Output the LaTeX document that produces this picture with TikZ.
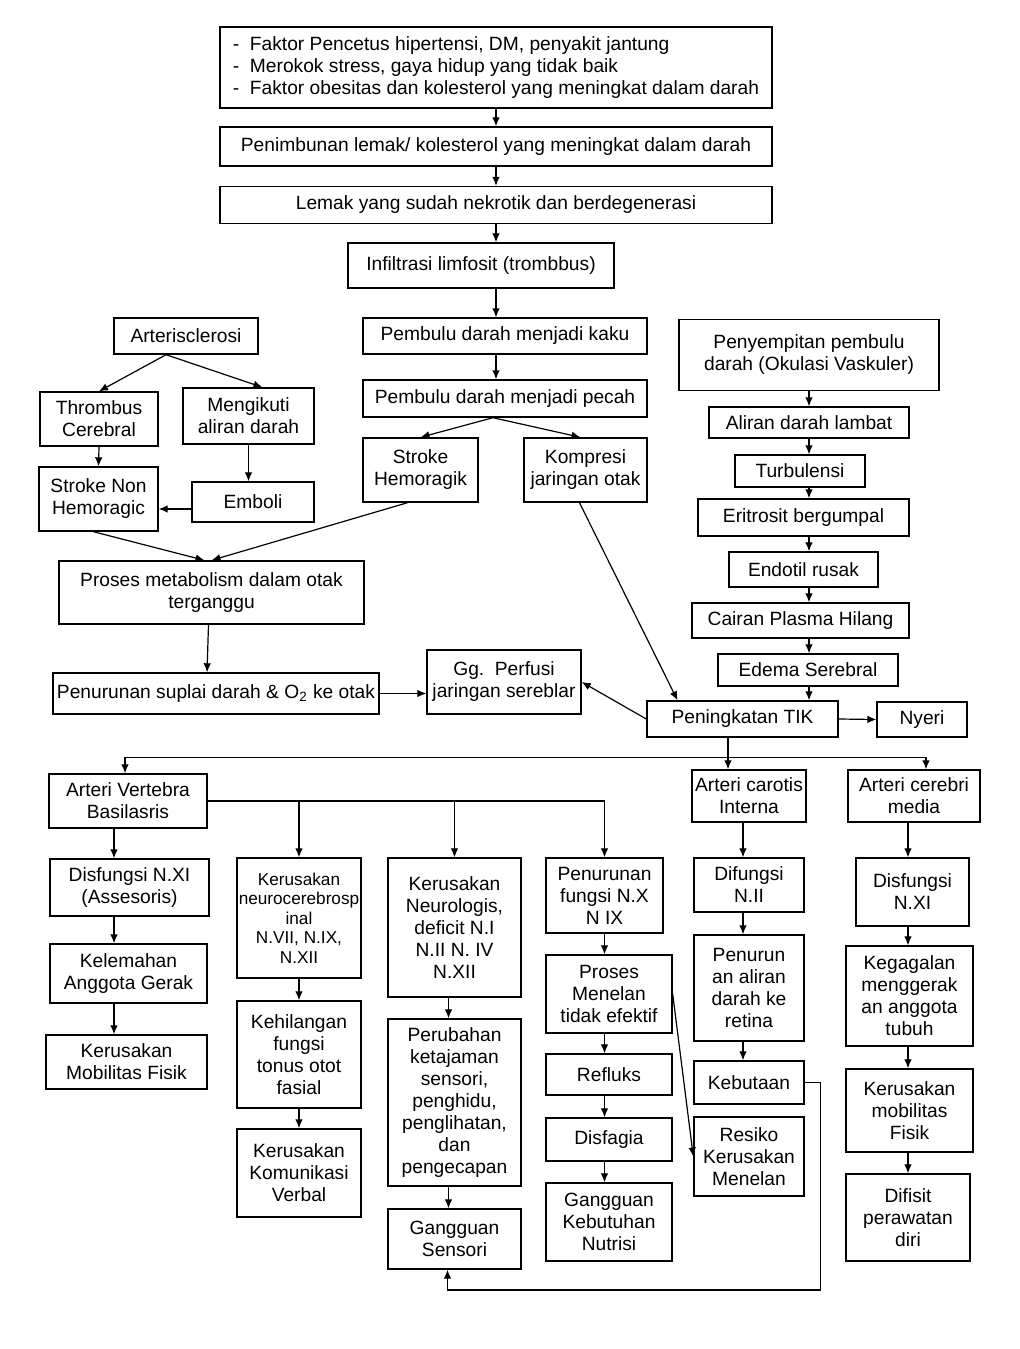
\documentclass[tikz,border=0pt]{standalone}
\usepackage{fontspec}
\setmainfont{Liberation Sans}
\usetikzlibrary{calc, arrows.meta}
\tikzset{
  box/.style={draw, line width=0.7pt, align=center, inner sep=0pt, font=\fontsize{9.6}{11}\selectfont},
  sz/.style 2 args={minimum width=#1*0.5pt, minimum height=#2*0.5pt},
}
\begin{document}
\begin{tikzpicture}[>={Latex[length=4.5pt,width=3.8pt]}, x=0.5pt, y=-0.5pt, line width=0.6pt]
        \useasboundingbox (0,0) rectangle (1020,1349);
        % top column
        \node[box, sz={552}{81}, align=left] (f1) at (496,67.5) {\makebox[8.5pt][l]{-}Faktor Pencetus hipertensi, DM, penyakit jantung\\\makebox[8.5pt][l]{-}Merokok stress, gaya hidup yang tidak baik\\\makebox[8.5pt][l]{-}Faktor obesitas dan kolesterol yang meningkat dalam darah};
        \node[box, sz={552}{39}] (f2) at (496,146.5) {Penimbunan lemak/ kolesterol yang meningkat dalam darah};
        \node[box, sz={552}{37}] (f3) at (496,205) {Lemak yang sudah nekrotik dan berdegenerasi};
        \node[box, sz={266}{45}] (inf) at (481,265.5) {Infiltrasi limfosit (trombbus)};
        \node[box, sz={284}{36}] (kaku) at (505,336) {Pembulu darah menjadi kaku};
        \node[box, sz={284}{37}] (pecah) at (505,398.5) {Pembulu darah menjadi pecah};
        \node[box, sz={115}{64}] (sh) at (420.5,470) {Stroke\\Hemoragik};
        \node[box, sz={123}{64}] (komp) at (585.5,470) {Kompresi\\jaringan otak};
        \foreach \a/\b in {f1/f2, f2/f3, f3/inf, inf/kaku, kaku/pecah}
            \draw[->] (\a.south -| f1) -- (\b.north -| f1);
        \draw[->] ($(pecah.south)+(-12,0)$) -- (sh.north);
        \draw[->] ($(pecah.south)+(-12,0)$) -- ($(komp.north)+(-5,0)$);

        % left branch
        \node[box, sz={144}{36}] (art) at (186,336) {Arterisclerosi};
        \node[box, sz={118}{54}] (thr) at (99,419) {Thrombus\\Cerebral};
        \node[box, sz={131}{56}] (meng) at (248.5,416) {Mengikuti\\aliran darah};
        \node[box, sz={119}{64}] (snh) at (98.5,499) {Stroke Non\\Hemoragic};
        \node[box, sz={122}{40}] (emb) at (253,502) {Emboli};
        \node[box, sz={305}{63}] (pm) at (211.5,592.5) {Proses metabolism dalam otak\\terganggu};
        \node[box, sz={326}{41}] (sup) at (216,693.5) {Penurunan suplai darah \& O\textsubscript{2} ke otak};
        \node[box, sz={154}{64}] (perf) at (504,682) {Gg.\ \ Perfusi\\jaringan sereblar};
        \draw[->] ($(art.south)+(-20,0)$) -- (thr.north);
        \draw[->] ($(art.south)+(-20,0)$) -- ($(meng.north)+(14,0)$);
        \draw[->] (thr.south) -- (snh.north);
        \draw[->] (meng.south) -- (meng.south |- emb.north);
        \draw[->] ([yshift=-3.5pt]emb.west) -- ([yshift=-3.5pt]emb.west -| snh.east);
        \draw[->] ($(snh.south)+(-5,0)$) -- ($(pm.north)+(-7,0)$);
        \draw[->] ($(sh.south)+(-13,0)$) -- (pm.north);
        \draw[->] ($(pm.south)+(-3,0)$) -- ($(sup.north)+(-9,0)$);
        \draw[->] (sup.east) -- (sup.east -| perf.west);

        % right column
        \node[box, sz={260}{71}] (semp) at (809,355) {Penyempitan pembulu\\darah (Okulasi Vaskuler)};
        \node[box, sz={200}{31}] (alir) at (809,422.5) {Aliran darah lambat};
        \node[box, sz={130}{32}] (turb) at (800,471) {Turbulensi};
        \node[box, sz={211}{37}] (eri) at (803.5,517.5) {Eritrosit bergumpal};
        \node[box, sz={149}{35}] (endo) at (803.5,569.5) {Endotil rusak};
        \node[box, sz={217}{35}] (cair) at (800.5,620.5) {Cairan Plasma Hilang};
        \node[box, sz={180}{32}] (edema) at (808,670) {Edema Serebral};
        \node[box, sz={191}{36}] (tik) at (742.5,719) {Peningkatan TIK};
        \node[box, sz={90}{35}] (nyeri) at (922,719.5) {Nyeri};
        \foreach \a/\b in {semp/alir, alir/turb, turb/eri, eri/endo, endo/cair, cair/edema, edema/tik}
            \draw[->] (\a.south -| semp) -- (\b.north -| semp);
        \draw[->] ($(komp.south)+(-6,0)$) -- ($(tik.north)+(-65,0)$);
        \draw[->] (tik.west) -- (perf.east);
        \draw[->] (tik.east) -- (nyeri.west);

        % lower part
        \node[box, sz={158}{54}] (avb) at (128,801) {Arteri Vertebra\\Basilasris};
        \node[box, sz={114}{52}] (aci) at (749,796) {Arteri carotis\\Interna};
        \node[box, sz={132}{52}] (acm) at (914,796) {Arteri cerebri\\media};
        \coordinate (br) at ($(tik.south)+(-14.5,20)$);
        \draw (tik.south -| br) -- (br);
        \draw[->] (br) -- (br |- aci.north);
        \draw[->] (br) -| ([xshift=-1.5pt]avb.north);
        \draw[->] (br) -| ($(acm.north)+(12,0)$);

        \node[box, sz={159}{57}] (dnxi) at (129.5,887.5) {Disfungsi N.XI\\(Assesoris)};
        \node[box, sz={157}{59}] (kel) at (128.5,973.5) {Kelemahan\\Anggota Gerak};
        \node[box, sz={161}{54}] (kmf) at (126.5,1062) {Kerusakan\\Mobilitas Fisik};
        \foreach \a/\b in {avb/dnxi, dnxi/kel, kel/kmf}
            \draw[->] ([xshift=-7pt]\a.south -| avb) -- ([xshift=-7pt]\b.north -| avb);

        \node[box, sz={124}{120}, font=\fontsize{8.6}{9.8}\selectfont] (knc) at (299,918) {Kerusakan\\neurocerebrosp\\inal\\N.VII, N.IX,\\N.XII};
        \node[box, sz={124}{107}] (kfs) at (299,1054.5) {Kehilangan\\fungsi\\tonus otot\\fasial};
        \node[box, sz={124}{88}] (kkv) at (299,1173) {Kerusakan\\Komunikasi\\Verbal};
        \foreach \a/\b in {knc/kfs, kfs/kkv}
            \draw[->] (\a.south) -- (\b.north);

        \node[box, sz={133}{139}] (kn) at (454.5,927.5) {Kerusakan\\Neurologis,\\deficit N.I\\N.II N. IV\\N.XII};
        \node[box, sz={133}{167}] (pk) at (454.5,1102.5) {Perubahan\\ketajaman\\sensori,\\penghidu,\\penglihatan,\\dan\\pengecapan};
        \node[box, sz={133}{60}] (gs) at (454.5,1239) {Gangguan\\Sensori};
        \foreach \a/\b in {kn/pk, pk/gs}
            \draw[->] ([xshift=-3pt]\a.south) -- ([xshift=-3pt]\b.north);

        \node[box, sz={117}{75}] (pf) at (604.5,895.5) {Penurunan\\fungsi N.X\\N IX};
        \node[box, sz={126}{78}] (pmt) at (609,994) {Proses\\Menelan\\tidak efektif};
        \node[box, sz={126}{41}] (ref) at (609,1074.5) {Refluks};
        \node[box, sz={126}{43}] (dis) at (609,1139.5) {Disfagia};
        \node[box, sz={126}{78}] (gkn) at (609,1222) {Gangguan\\Kebutuhan\\Nutrisi};
        \foreach \a/\b in {pf/pmt, pmt/ref, ref/dis, dis/gkn}
            \draw[->] (\a.south -| pf) -- (\b.north -| pf);

        \draw (avb.east) -- (avb.east -| pf.north);
        \draw[->] (avb.east -| pf.north) -- (pf.north);
        \draw[->] (avb.east -| knc.north) -- (knc.north);
        \draw[->] (avb.east -| kn.north) -- (kn.north);

        \node[box, sz={110}{54}] (dnii) at (749,885) {Difungsi\\N.II};
        \node[box, sz={110}{106}] (par) at (749,988) {Penurun\\an aliran\\darah ke\\retina};
        \node[box, sz={110}{43}] (keb) at (749,1082.5) {Kebutaan};
        \node[box, sz={110}{79}] (rkm) at (749,1156.5) {Resiko\\Kerusakan\\Menelan};
        \draw[->] ([xshift=-3pt]aci.south) -- ([xshift=-3pt]dnii.north);
        \foreach \a/\b in {dnii/par, par/keb}
            \draw[->] ([xshift=-3pt]\a.south) -- ([xshift=-3pt]\b.north);
        \draw[->] (pmt.east) -- (rkm.west);
        \coordinate (lp) at ($(keb.east)+(16,207.5)$);
        \draw[->] (keb.east) -| (lp) -| ([xshift=-3.5pt]gs.south);

        \node[box, sz={113}{68}] (dnxib) at (912.5,892) {Disfungsi\\N.XI};
        \node[box, sz={127}{100}] (keg) at (909.5,996) {Kegagalan\\menggerak\\an anggota\\tubuh};
        \node[box, sz={127}{83}] (kmfb) at (909.5,1110.5) {Kerusakan\\mobilitas\\Fisik};
        \node[box, sz={124}{87}] (dif) at (908,1217.5) {Difisit\\perawatan\\diri};
        \foreach \a/\b in {acm/dnxib, dnxib/keg, keg/kmfb, kmfb/dif}
            \draw[->] (\a.south -| dif) -- (\b.north -| dif);
\end{tikzpicture}
\end{document}
